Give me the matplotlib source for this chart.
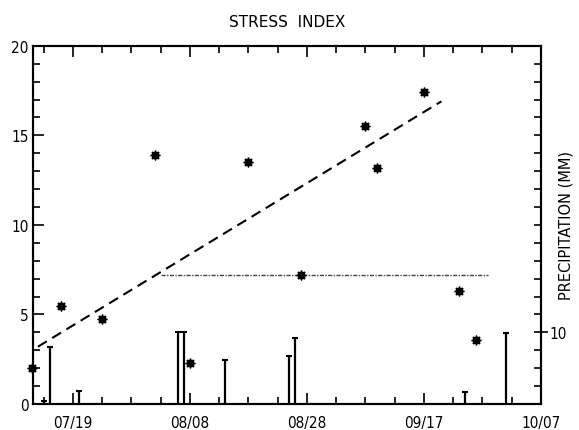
"""
plot.py
    stress index vs. date with precipitation bars on a second axis
"""
import numpy as np
import pandas as pd
import matplotlib
matplotlib.use('Agg')
import matplotlib.pyplot as plt
import matplotlib.dates as mdates
from matplotlib.ticker import FixedLocator, MultipleLocator

plt.rcParams['font.family'] = ['DejaVu Sans']
plt.rcParams['font.stretch'] = 'condensed'

# stress index observations
stress_dates = ['07/12', '07/17', '07/24', '08/02', '08/08', '08/18',
                '08/27', '09/07', '09/09', '09/17', '09/23', '09/26']
stress_vals = [2.0, 5.5, 4.75, 13.9, 2.3, 13.5, 7.2, 15.5, 13.2, 17.4, 6.3, 3.6]

# daily precipitation (mm)
precip_dates = ['07/14', '07/15', '07/20', '08/06', '08/07', '08/14',
                '08/25', '08/26', '09/24', '10/01']
precip_mm = [0.4, 7.9, 1.8, 10.0, 10.0, 6.1, 6.7, 9.2, 1.7, 9.9]

# fitted trend (end points) and horizontal reference level
trend_dates = ['07/13', '09/20']
trend_vals = [3.2, 16.9]
level_dates = ['08/03', '09/28']
level_val = 7.2

tick_dates = ['07/19', '08/08', '08/28', '09/17', '10/07']


def to_num(days):
    return mdates.date2num(pd.to_datetime(['1985/' + d for d in days]))


fig = plt.figure(figsize=(5.79, 4.31), dpi=100)
ax = fig.add_axes([0.057, 0.0603, 0.877, 0.831])
ax2 = ax.twinx()

# precipitation bars with small caps
px = to_num(precip_dates)
ax2.vlines(px, 0, precip_mm, color='black', lw=1.6)
ax2.plot(px, precip_mm, ls='none', marker='_', ms=5, mew=1.5, color='black')
ax2.set_ylim(0, 50)

# stress index
sx = to_num(stress_dates)
ax.plot(sx, stress_vals, ls='none', marker='s', ms=5, color='black',
        clip_on=False, zorder=5)
ax.plot(sx, stress_vals, ls='none', marker=(8, 2, 0), ms=7, mew=1.0,
        color='black', clip_on=False, zorder=5)
ax.plot(to_num(trend_dates), trend_vals, color='black', lw=1.5,
        dashes=(5, 3))
ax.plot(to_num(level_dates), [level_val, level_val], color='#444444',
        lw=1.0, dashes=(3, 1, 1, 1))

ax.set_ylim(0, 20)
ax.set_xlim(to_num(['07/12'])[0] + 0.16, to_num(['10/07'])[0])
ax.set_zorder(ax2.get_zorder() + 1)
ax.patch.set_visible(False)

ticks = to_num(tick_dates)
ax.xaxis.set_major_locator(FixedLocator(ticks))
ax.xaxis.set_minor_locator(FixedLocator(np.arange(ticks[0] - 5, ticks[-1] + 1, 5)))
ax.xaxis.set_major_formatter(mdates.DateFormatter('%m/%d'))
ax.yaxis.set_major_locator(MultipleLocator(5))
ax.yaxis.set_minor_locator(MultipleLocator(1))
ax.tick_params(which='both', direction='in', top=True, width=1.2,
               labelsize=11, colors='black')
ax.tick_params(which='major', length=8)
ax.tick_params(which='minor', length=5)
ax.tick_params(axis='x', pad=8)
ax.tick_params(axis='y', pad=3)

ax2.yaxis.set_major_locator(FixedLocator([10]))
ax2.yaxis.set_minor_locator(MultipleLocator(2.5))
ax2.tick_params(which='major', direction='inout', length=10, width=1.2,
                labelsize=11, pad=1)
ax2.tick_params(which='minor', direction='in', length=5, width=1.2)
ax2.set_ylabel('PRECIPITATION (MM)', fontsize=10.5, fontstretch='normal')
ax2.yaxis.set_label_coords(1.034, 0.5)

for a in (ax, ax2):
    for s in a.spines.values():
        s.set_linewidth(1.5)

ax.set_title('STRESS  INDEX', fontsize=11, fontstretch='normal', pad=14)

fig.savefig('out.png', dpi=100)
